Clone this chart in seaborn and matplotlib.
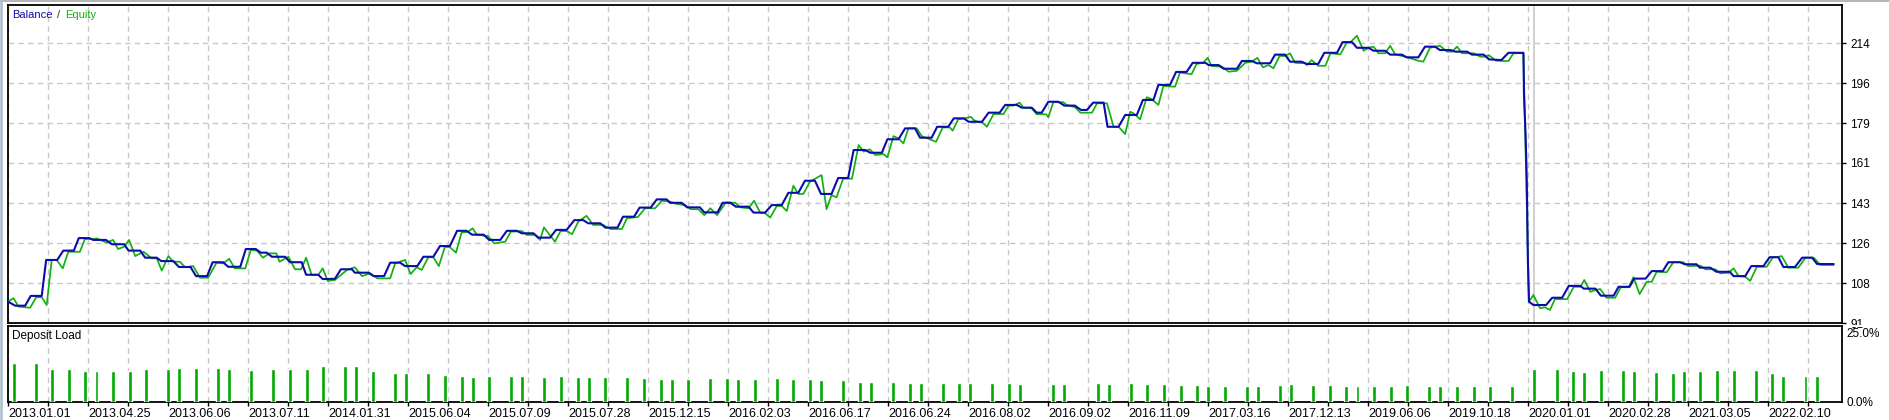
import numpy as np
import matplotlib
matplotlib.use("Agg")
import matplotlib.pyplot as plt
import seaborn as sns
import pandas as pd
from matplotlib.lines import Line2D
from matplotlib.patches import Rectangle

sns.set_theme(style="white")
plt.rcParams['font.family'] = ['Liberation Sans', 'DejaVu Sans']

# ---------------- data (deal index, value) ----------------
balance_curve = [
    (0, 100.4), (1.3, 98.6), (3.1, 98.6), (4.1, 102.9), (6.1, 102.9), (6.9, 118.7), (8.9, 118.7),
    (10.0, 122.8), (11.9, 122.8), (12.8, 128.3), (14.7, 128.3), (15.4, 127.5), (17.7, 127.5),
    (18.8, 125.6), (21.0, 125.6), (21.8, 122.8), (23.9, 122.8), (24.8, 119.7), (26.9, 119.7),
    (27.7, 118.2), (29.9, 118.2), (30.9, 115.6), (33.0, 115.6), (34.0, 111.6), (36.0, 111.6),
    (37.0, 117.7), (38.9, 117.7), (39.8, 115.7), (42.0, 115.7), (43.0, 123.5), (44.8, 123.5),
    (45.7, 121.9), (46.8, 121.9), (47.7, 120.1), (50.1, 120.1), (51.0, 117.7), (53.1, 117.7),
    (53.9, 112.2), (56.1, 112.2), (56.9, 110.3), (59.1, 110.4), (60.2, 114.6), (62.2, 114.6),
    (62.7, 113.1), (65.2, 113.1), (66.1, 111.6), (68.0, 111.6), (69.1, 117.5), (70.9, 117.5),
    (71.8, 116.0), (74.0, 116.0), (75.1, 120.1), (76.9, 120.1), (78.1, 124.8), (79.9, 124.8),
    (81.2, 131.5), (82.9, 131.5), (83.9, 129.8), (86.0, 129.8), (87.0, 127.5), (89.0, 127.5),
    (90.2, 131.5), (92.0, 131.5), (92.9, 130.4), (95.0, 130.4), (95.9, 128.5), (98.0, 128.5),
    (99.1, 131.9), (101.0, 131.9), (102.4, 136.2), (104.0, 136.2), (104.9, 134.8), (107.1, 134.8),
    (108.0, 132.9), (110.2, 132.9), (111.2, 137.7), (113.2, 137.7), (114.2, 141.7), (116.2, 141.7),
    (117.3, 145.3), (119.1, 145.3), (119.7, 143.8), (121.8, 143.8), (122.8, 141.8), (125.1, 141.8),
    (125.9, 139.6), (128.3, 139.6), (129.2, 143.8), (130.6, 143.8), (131.6, 142.1), (133.9, 142.1),
    (134.8, 139.5), (136.9, 139.5), (138.1, 142.8), (139.9, 142.8), (141.1, 148.2), (142.9, 148.2),
    (144.1, 153.5), (145.9, 153.5), (147.0, 147.7), (148.9, 147.7), (150.1, 154.7), (151.9, 154.7),
    (152.9, 167.0), (155.0, 167.0), (155.9, 165.8), (158.0, 165.8), (159.0, 171.7), (161.0, 171.7),
    (162.2, 176.5), (164.0, 176.5), (164.9, 172.4), (167.0, 172.4), (168.0, 177.2), (170.0, 177.2),
    (171.0, 180.9), (172.8, 180.9), (173.7, 179.4), (176.1, 179.4), (177.3, 183.4), (179.3, 183.4),
    (180.3, 186.8), (182.4, 186.8), (183.3, 185.6), (185.1, 185.6), (186.0, 183.4), (186.9, 183.4),
    (188.1, 188.2), (189.9, 188.2), (191.0, 186.5), (192.9, 186.5), (194.0, 184.6), (195.1, 184.6),
    (196.2, 187.8), (198.1, 187.8), (198.8, 177.2), (200.8, 177.2), (202.0, 182.4), (204.1, 182.4),
    (205.2, 189.0), (207.1, 189.0), (208.0, 195.6), (210.1, 195.6), (211.2, 201.3), (213.1, 201.3),
    (214.2, 205.3), (216.5, 205.3), (217.1, 204.3), (218.9, 204.3), (219.8, 202.7), (222.2, 202.7),
    (223.1, 206.1), (224.9, 206.1), (225.8, 205.1), (228.2, 205.1), (229.1, 208.9), (230.9, 208.9),
    (231.8, 205.8), (233.9, 205.8), (234.8, 204.8), (236.9, 204.8), (238.0, 209.7), (240.3, 209.7),
    (241.3, 214.4), (243.0, 214.4), (243.9, 211.9), (246.0, 211.9), (246.9, 210.6), (249.0, 210.6),
    (249.9, 208.9), (252.0, 208.9), (252.9, 207.7), (255.0, 207.7), (256.2, 212.4), (258.0, 212.4),
    (258.9, 210.9), (260.8, 210.9), (261.7, 210.2), (263.8, 210.2), (264.7, 208.9), (266.8, 208.9),
    (267.8, 206.8), (270.0, 206.5), (271.3, 209.7), (274.0, 209.7), (274.1, 191.2), (274.4, 172.8),
    (274.6, 154.6), (274.7, 136.2), (274.8, 118.7), (275.0, 100.4), (275.8, 98.9), (278.1, 98.9),
    (279.2, 102.1), (281.0, 102.1), (282.2, 107.3), (284.3, 107.3), (284.9, 106.1), (287.0, 106.1),
    (288.0, 103.0), (290.3, 103.0), (291.2, 106.9), (293.2, 106.9), (294.0, 110.5), (296.1, 110.5),
    (297.2, 113.8), (299.2, 113.8), (300.2, 117.7), (302.3, 117.7), (303.2, 116.8), (305.3, 116.8),
    (305.9, 115.3), (307.8, 115.3), (308.9, 113.5), (311.3, 113.5), (312.0, 111.6), (314.1, 111.6),
    (315.2, 116.0), (317.4, 116.0), (318.5, 119.9), (320.1, 119.9), (321.0, 115.6), (323.1, 115.6),
    (324.4, 119.7), (326.2, 119.7), (327.1, 116.9), (330.1, 116.9),
]

equity_curve = [
    (0.0, 100.4), (1.0, 101.9), (1.9, 98.2), (4.0, 97.7), (5.1, 102.3), (6.1, 102.3), (7.0, 98.9),
    (7.9, 118.7), (8.8, 118.7), (9.9, 115.0), (10.9, 122.3), (13.0, 122.3), (13.9, 127.9), (15.7, 127.9),
    (16.0, 128.2), (17.8, 126.3), (19.0, 127.5), (19.9, 123.5), (21.0, 124.5), (21.9, 127.5),
    (23.0, 120.4), (24.5, 122.3), (26.0, 119.4), (26.9, 119.4), (27.8, 114.0), (29.0, 120.4),
    (29.9, 117.9), (31.1, 117.9), (32.0, 115.5), (33.5, 116.0), (34.7, 110.9), (36.2, 110.9),
    (37.7, 117.5), (38.9, 117.2), (40.0, 119.2), (41.0, 115.0), (42.9, 115.0), (43.9, 123.1),
    (45.0, 122.8), (46.1, 119.7), (47.3, 121.6), (48.5, 121.6), (49.1, 117.9), (50.7, 120.1),
    (51.9, 114.6), (53.0, 114.6), (53.9, 119.7), (54.9, 112.1), (56.1, 112.1), (56.9, 115.0),
    (57.8, 109.5), (59.1, 109.9), (61.3, 114.3), (62.7, 115.5), (64.0, 111.6), (65.5, 112.8),
    (66.8, 110.6), (69.1, 110.6), (70.0, 117.2), (71.8, 118.7), (72.8, 112.5), (73.9, 115.5),
    (74.8, 114.3), (76.0, 119.9), (76.9, 119.9), (77.9, 116.0), (79.0, 124.5), (79.9, 124.3),
    (81.0, 121.9), (82.0, 130.7), (83.2, 131.1), (84.0, 132.6), (84.8, 129.7), (86.8, 129.2),
    (87.9, 126.0), (89.9, 126.7), (90.9, 131.1), (92.9, 131.4), (93.8, 129.7), (95.3, 129.7),
    (96.2, 127.5), (96.9, 133.0), (98.9, 126.7), (99.9, 131.4), (101.0, 131.4), (102.0, 130.0),
    (103.1, 135.5), (104.6, 138.1), (105.8, 134.1), (107.6, 134.1), (108.9, 132.3), (111.0, 132.3),
    (111.9, 137.0), (113.9, 137.6), (115.2, 141.4), (117.0, 141.4), (118.2, 144.7), (119.7, 144.3),
    (120.9, 143.3), (122.4, 142.8), (123.4, 141.0), (124.8, 141.0), (125.9, 138.4), (127.0, 141.4),
    (128.2, 138.4), (129.8, 144.0), (131.5, 143.8), (132.4, 141.8), (133.9, 141.4), (134.9, 144.7),
    (136.0, 139.5), (136.9, 139.2), (137.8, 137.3), (139.0, 142.4), (139.9, 142.4), (140.8, 140.2),
    (142.0, 151.3), (142.9, 147.7), (143.8, 147.7), (145.0, 153.1), (147.1, 156.0), (148.0, 141.0),
    (148.9, 147.2), (149.8, 146.2), (151.0, 154.4), (152.6, 154.4), (153.8, 169.2), (154.7, 166.3),
    (155.8, 167.3), (156.8, 164.8), (158.3, 165.2), (159.0, 163.8), (160.1, 173.1), (161.0, 172.1),
    (161.9, 169.9), (162.8, 176.5), (164.3, 176.5), (165.2, 173.1), (167.0, 171.4), (167.8, 170.6),
    (169.0, 176.9), (170.3, 176.9), (170.8, 175.5), (171.8, 180.5), (173.0, 180.9), (174.1, 181.6),
    (174.6, 180.2), (175.5, 179.2), (176.1, 179.2), (177.0, 177.2), (178.2, 182.8), (180.0, 182.8),
    (180.9, 186.5), (181.8, 186.5), (182.9, 187.8), (183.6, 185.6), (185.1, 185.3), (186.0, 182.7),
    (187.7, 182.7), (188.1, 181.4), (189.0, 188.0), (190.8, 188.0), (191.4, 186.8), (192.9, 185.8),
    (193.9, 183.4), (196.0, 183.4), (196.9, 187.5), (198.7, 187.5), (199.9, 177.2), (200.8, 177.2),
    (202.0, 174.0), (202.9, 183.8), (203.5, 183.1), (204.7, 180.5), (205.9, 190.2), (206.8, 189.3),
    (208.0, 186.8), (208.9, 195.1), (211.0, 194.8), (211.9, 201.0), (214.0, 200.3), (214.9, 204.8),
    (216.1, 205.3), (216.9, 207.5), (217.6, 203.9), (219.5, 203.6), (220.7, 201.4), (222.2, 201.8),
    (223.7, 205.3), (224.9, 205.8), (225.9, 207.5), (226.9, 203.3), (227.9, 204.3), (228.8, 202.9),
    (229.9, 208.3), (230.9, 208.3), (231.8, 209.5), (232.7, 205.3), (234.5, 205.1), (234.9, 204.3),
    (235.7, 206.5), (236.9, 204.0), (238.2, 204.0), (239.1, 209.5), (240.9, 209.0), (242.0, 214.0),
    (242.7, 214.3), (243.9, 217.2), (245.1, 210.6), (246.0, 211.9), (246.9, 212.4), (247.8, 209.5),
    (249.0, 209.5), (249.9, 212.8), (250.8, 209.0), (252.6, 208.0), (255.0, 206.2), (255.9, 205.8),
    (257.1, 211.9), (258.9, 212.8), (260.2, 210.2), (261.1, 210.2), (262.0, 212.4), (262.9, 209.5),
    (265.0, 209.5), (266.2, 208.0), (267.1, 208.0), (267.7, 208.7), (269.1, 206.2), (271.3, 206.1),
    (272.2, 209.5), (274.0, 209.5), (275.0, 100.4), (275.8, 103.3), (277.0, 97.5), (277.9, 97.9),
    (278.8, 96.7), (279.7, 101.5), (281.9, 101.5), (283.1, 106.9), (284.3, 106.9), (285.0, 109.9),
    (286.1, 104.7), (287.0, 105.5), (287.9, 105.9), (289.0, 102.1), (290.6, 102.1), (291.6, 106.7),
    (293.0, 106.7), (293.9, 111.1), (295.0, 103.7), (296.3, 109.1), (297.2, 109.1), (298.1, 113.5),
    (299.9, 113.3), (301.1, 117.7), (302.9, 117.7), (303.8, 116.0), (306.0, 116.2), (306.9, 114.6),
    (308.7, 114.6), (309.6, 112.8), (311.1, 113.1), (312.0, 115.0), (312.9, 111.6), (314.1, 111.3),
    (315.0, 109.5), (316.2, 115.7), (318.0, 115.7), (319.1, 119.9), (319.8, 119.9), (320.7, 120.4),
    (321.9, 115.3), (323.7, 115.3), (325.0, 119.7), (326.5, 119.7), (327.7, 116.5), (330.1, 116.5),
]

load_deals = [1, 5, 8, 11, 14, 16, 19, 22, 25, 29, 31, 34, 38, 40, 44, 48, 51, 54, 57, 61, 63, 66,
              70, 72, 76, 79, 82, 84, 87,
              91, 93, 97, 100, 103, 105, 108, 112, 115, 118, 120, 123, 127, 130, 132, 135, 139, 142,
              145, 147, 151, 154, 156, 160, 163, 165, 169, 172, 174, 178, 181, 183, 189, 191, 197,
              199, 203, 206, 209, 212, 215, 217, 220, 224, 226, 230, 232, 236, 239, 242, 244, 247,
              250, 253, 257, 259, 262, 265, 268, 272,
              276, 280, 283, 285, 288, 292, 294, 298, 301, 303, 306, 309, 312, 316, 319, 321, 325, 327]
load_pct = [14.0, 14.0, 12.0, 12.0, 11.2, 11.2, 11.2, 11.2, 12.0, 12.0, 12.4, 12.4, 12.4, 12.0,
            11.6, 12.0, 12.0, 12.0, 13.0, 13.0, 13.0, 11.2, 10.5, 10.5, 10.5, 9.8, 9.4, 9.1, 9.4,
            9.4, 9.4, 9.0, 9.4, 9.0, 9.0, 9.0, 9.0, 8.7, 8.3, 8.3, 8.3, 8.7, 8.7, 8.3, 8.3, 8.7, 8.3,
            8.3, 8.0, 8.0, 7.2, 7.2, 7.2, 6.9, 6.9, 6.9, 6.9, 6.9, 6.9, 6.9, 6.5, 6.5, 6.5, 6.9,
            6.5, 6.9, 6.5, 6.5, 6.2, 6.2, 5.8, 5.8, 5.8, 5.8, 6.2, 6.5, 6.2, 6.2, 5.8, 5.8, 5.8,
            5.8, 6.2, 5.8, 5.8, 5.8, 5.8, 5.8, 5.8,
            12.0, 12.0, 11.2, 10.9, 11.6, 11.6, 11.2, 10.9, 10.5, 11.2, 11.2, 11.6, 11.6, 11.6,
            10.5, 9.4, 9.4, 9.4]

date_labels = ["2013.01.01", "2013.04.25", "2013.06.06", "2013.07.11", "2014.01.31", "2015.06.04",
               "2015.07.09", "2015.07.28", "2015.12.15", "2016.02.03", "2016.06.17", "2016.06.24",
               "2016.08.02", "2016.09.02", "2016.11.09", "2017.03.16", "2017.12.13", "2019.06.06",
               "2019.10.18", "2020.01.01", "2020.02.28", "2021.03.05", "2022.02.10"]

price_ticks = [91.0, 108.57, 126.14, 143.71, 161.29, 178.86, 196.43, 214.0]
price_tick_labels = ["91", "108", "126", "143", "161", "179", "196", "214"]
load_ticks = [0, 25]
load_tick_labels = ["0.0%", "25.0%"]
marker_deal = 275.9

# ---------------- layout ----------------
W, H = 1889, 420
fig = plt.figure(figsize=(W / 100, H / 100), dpi=100)
fig.patch.set_facecolor("white")


def px_axes(x0, y0, x1, y1):
    return fig.add_axes([x0 / W, 1 - y1 / H, (x1 - x0) / W, (y1 - y0) / H])


ax = px_axes(8, 5, 1842, 323)
ax2 = px_axes(8, 326, 1842, 402)

BLUE = "#0c0cad"
GREEN = "#12b012"
BAR_GREEN = "#00a800"
GRID = "#c8c8c8"

x_max = 331.6
grid_step = 7.2333
grid_pos = np.arange(0, x_max, grid_step)

for a in (ax, ax2):
    a.set_facecolor("white")
    a.set_xlim(0, x_max)
    for s in a.spines.values():
        s.set_color("black")
        s.set_linewidth(1.3)

# ---------------- main panel ----------------
bal = pd.DataFrame(balance_curve, columns=["deal", "value"])
eq = pd.DataFrame(equity_curve, columns=["deal", "value"])

ax.axvline(marker_deal, color="#c8c8c8", lw=1.2, zorder=2)
sns.lineplot(data=eq, x="deal", y="value", ax=ax, color=GREEN, linewidth=1.25,
             estimator=None, sort=False, zorder=3)
sns.lineplot(data=bal, x="deal", y="value", ax=ax, color=BLUE, linewidth=1.5,
             estimator=None, sort=False, zorder=4)

ax.set_xlim(0, x_max)
ax.set_ylim(91, 230.7)
ax.set_xticks(grid_pos)
ax.set_yticks(price_ticks)
ax.set_yticklabels(price_tick_labels)
ax.yaxis.tick_right()
ax.grid(True, color=GRID, linestyle=(0, (4, 3)), linewidth=1.0, zorder=0)
ax.set_axisbelow(True)
ax.tick_params(axis="x", length=0, labelbottom=False, bottom=False)
ax.tick_params(axis="y", length=3, width=1, color="black", labelsize=8.5, pad=3,
               right=True, left=False, labelcolor="black")
ax.set_xlabel("")
ax.set_ylabel("")

fig.text(12 / W, 1 - 15 / H, "Balance", color=BLUE, fontsize=8, ha="left", va="center")
fig.text(57 / W, 1 - 15 / H, "/", color="#303030", fontsize=8, ha="left", va="center")
fig.text(65.5 / W, 1 - 15 / H, "Equity", color=GREEN, fontsize=8, ha="left", va="center")

# ---------------- deposit load panel ----------------
sns.barplot(x=load_deals, y=load_pct, ax=ax2, native_scale=True, color=BAR_GREEN,
            saturation=1, width=0.36, errorbar=None, zorder=3)
ax2.set_xlim(0, x_max)
ax2.set_ylim(0, 27.5)
ax2.set_xticks(grid_pos)
ax2.set_xticklabels([date_labels[i // 2] if i % 2 == 0 and i // 2 < len(date_labels) else ""
                     for i in range(len(grid_pos))])
for lbl in ax2.get_xticklabels():
    lbl.set_horizontalalignment("left")
ax2.set_yticks(load_ticks)
ax2.set_yticklabels(load_tick_labels)
ax2.yaxis.tick_right()
ax2.grid(True, axis="x", color=GRID, linestyle=(0, (4, 3)), linewidth=1.0, zorder=0)
ax2.grid(False, axis="y")
ax2.set_axisbelow(True)
ax2.tick_params(axis="x", length=3, width=1, color="black", labelsize=9, pad=1,
                bottom=True, labelcolor="black")
ax2.tick_params(axis="y", length=0, labelsize=8.5, pad=3, right=True, left=False,
                labelcolor="black")
ax2.set_xlabel("")
ax2.set_ylabel("")
ax2.text(4 / 1834, 1 - (336 - 326) / 76, "Deposit Load", transform=ax2.transAxes,
         fontsize=8.5, color="black", ha="left", va="center")

# ---------------- frame decorations ----------------
fig.add_artist(Line2D([0, 1], [1 - 0.7 / H, 1 - 0.7 / H], transform=fig.transFigure,
                      color="#a0a0a0", lw=1.1))
fig.add_artist(Line2D([1.2 / W, 1.2 / W], [0, 1], transform=fig.transFigure,
                      color="#a9bccf", lw=1.8))
fig.add_artist(Rectangle((1844 / W, 1 - 327.0 / H), 45 / W, 1.8 / H, transform=fig.transFigure,
                         facecolor="white", edgecolor="none", zorder=10))

fig.savefig("out.png", dpi=100, facecolor="white")
